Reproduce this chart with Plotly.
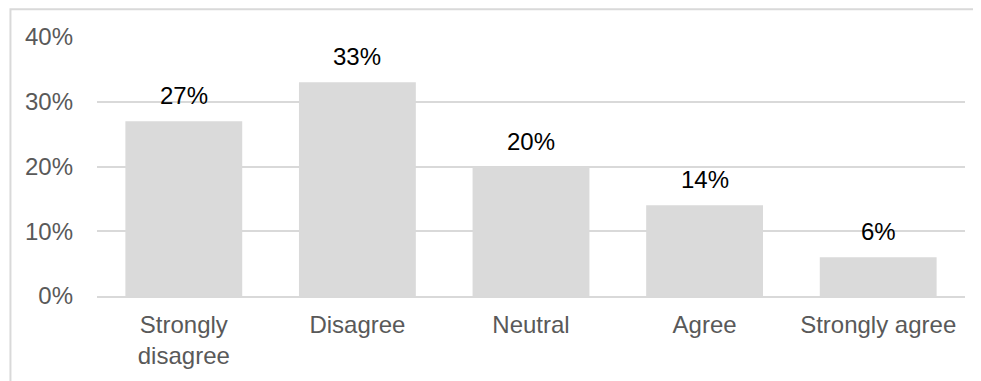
import plotly.graph_objects as go

categories = ["Strongly<br>disagree", "Disagree", "Neutral", "Agree", "Strongly agree"]
shares = [0.27, 0.33, 0.20, 0.14, 0.06]
y_ticks = [0, 0.1, 0.2, 0.3, 0.4]
y_tick_labels = ["0%", "10%", "20%", "30%", "40%"]

FONT = "Liberation Sans, Arial, sans-serif"
GRID = "#d9d9d9"

fig = go.Figure(go.Bar(
    x=categories, y=shares,
    marker=dict(color="#dadada", line=dict(width=0)),
    hoverinfo="skip",
))

# data labels sit a bit higher above the bars than plotly's "outside" text
for cat, v in zip(categories, shares):
    fig.add_annotation(
        x=cat, y=v, text=f"{round(v * 100)}%", showarrow=False,
        yanchor="bottom", yshift=10,
        font=dict(family=FONT, size=24, color="#000000"),
    )

fig.update_layout(
    width=973, height=373,
    margin=dict(l=89, r=16, t=29, b=82),
    paper_bgcolor="white", plot_bgcolor="white",
    font=dict(family=FONT, size=24, color="#595959"),
    bargap=0.327,
    showlegend=False,
    xaxis=dict(showgrid=False, showline=True, linecolor=GRID, linewidth=2,
               ticks="", ticklabelstandoff=6,
               tickfont=dict(size=24, color="#595959")),
    yaxis=dict(range=[0, 0.4], tickvals=y_ticks, ticktext=y_tick_labels,
               showgrid=True, gridcolor=GRID, gridwidth=2, zeroline=False,
               showline=False, ticklabelstandoff=23,
               tickfont=dict(size=24, color="#595959")),
    shapes=[dict(type="rect", xref="paper", yref="paper",
                 x0=-0.0997, x1=1.2, y0=-0.6, y1=1.107,
                 line=dict(color=GRID, width=2), fillcolor="rgba(0,0,0,0)",
                 layer="below")],
)

fig.write_html("out.html")
